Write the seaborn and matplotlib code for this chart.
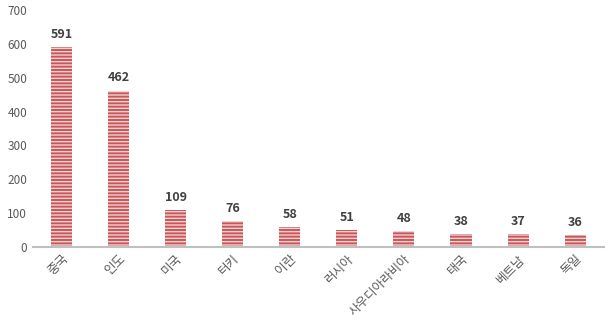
import matplotlib
matplotlib.use("Agg")
import matplotlib.pyplot as plt
import seaborn as sns
import pandas as pd

countries = ["중국", "인도", "미국", "터키", "이란", "러시아", "사우디아라비아", "태국", "베트남", "독일"]
values = [591, 462, 109, 76, 58, 51, 48, 38, 37, 36]
yticks = [0, 100, 200, 300, 400, 500, 600, 700]

sns.set_theme(style="white")
plt.rcParams['font.family'] = ['Noto Sans CJK KR', 'DejaVu Sans']
plt.rcParams['hatch.linewidth'] = 1.0

df = pd.DataFrame({"country": countries, "value": values})

fig = plt.figure(figsize=(6.08, 3.35), dpi=100)
ax = fig.add_axes([0.054, 0.263, 0.939, 0.707])

sns.barplot(data=df, x="country", y="value", color="#C9575A", width=0.37,
            ax=ax, saturation=1)
for p in ax.patches:
    p.set_hatch("-----")
    p.set_edgecolor("#F3D2D2")
    p.set_linewidth(0)

for i, v in enumerate(values):
    ax.text(i, v + 18, str(v), ha="center", va="bottom", fontsize=9,
            fontweight="bold", color="#404040")

ax.set_ylim(0, 700)
ax.set_xlim(-0.5, 9.5)
ax.set_yticks(yticks)
ax.set_yticklabels([str(t) for t in yticks], fontsize=8.5, color="#595959")
ax.set_xticks(range(len(countries)))
ax.set_xticklabels(countries, rotation=45, ha="right", rotation_mode="anchor",
                   fontsize=9, color="#595959")
ax.tick_params(axis="both", length=0, pad=4)
ax.set_xlabel("")
ax.set_ylabel("")
for s in ["top", "right", "left"]:
    ax.spines[s].set_visible(False)
ax.spines["bottom"].set_color("#BFBFBF")
ax.spines["bottom"].set_linewidth(1.5)

fig.savefig("out.png", dpi=100)
